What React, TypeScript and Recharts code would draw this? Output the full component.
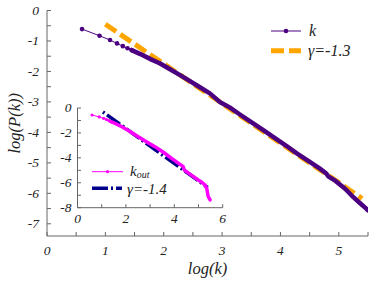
import React from "react";
import { LineChart, Line, XAxis, YAxis, Label, Legend, CartesianGrid } from "recharts";

// main plot: log(P(k)) against log(k)
const kHead = [
  { x: 0.6, y: -0.61 },
  { x: 0.9, y: -0.83 },
  { x: 1.08, y: -0.97 },
  { x: 1.2, y: -1.08 },
  { x: 1.3, y: -1.17 },
  { x: 1.38, y: -1.24 },
  { x: 1.45, y: -1.3 },
];
const kTail = [
  { x: 1.45, y: -1.3 },
  { x: 1.6, y: -1.43 },
  { x: 1.8, y: -1.62 },
  { x: 1.93, y: -1.73 },
  { x: 2.1, y: -1.92 },
  { x: 2.28, y: -2.12 },
  { x: 2.45, y: -2.32 },
  { x: 2.62, y: -2.52 },
  { x: 2.79, y: -2.72 },
  { x: 2.96, y: -3.0 },
  { x: 3.13, y: -3.18 },
  { x: 3.28, y: -3.38 },
  { x: 3.5, y: -3.66 },
  { x: 3.7, y: -3.92 },
  { x: 3.9, y: -4.18 },
  { x: 4.1, y: -4.44 },
  { x: 4.28, y: -4.69 },
  { x: 4.47, y: -4.93 },
  { x: 4.67, y: -5.18 },
  { x: 4.78, y: -5.34 },
  { x: 4.82, y: -5.44 },
  { x: 4.95, y: -5.6 },
  { x: 5.07, y: -5.79 },
  { x: 5.15, y: -5.93 },
  { x: 5.24, y: -6.11 },
  { x: 5.35, y: -6.3 },
  { x: 5.47, y: -6.5 },
  { x: 5.5, y: -6.56 },
];
const gamma13 = [
  { x: 1.0, y: -0.45 },
  { x: 5.4, y: -6.17 },
];

// inset: out-degree
const kOutHead = [
  { x: 0.6, y: -0.56 },
  { x: 0.9, y: -0.72 },
  { x: 1.08, y: -0.83 },
  { x: 1.2, y: -0.93 },
  { x: 1.3, y: -1.02 },
  { x: 1.38, y: -1.1 },
];
const kOutTail = [
  { x: 1.38, y: -1.1 },
  { x: 1.6, y: -1.28 },
  { x: 1.83, y: -1.5 },
  { x: 2.1, y: -1.8 },
  { x: 2.51, y: -2.3 },
  { x: 2.85, y: -2.7 },
  { x: 3.2, y: -3.1 },
  { x: 3.55, y: -3.55 },
  { x: 3.89, y: -4.04 },
  { x: 4.15, y: -4.4 },
  { x: 4.37, y: -4.71 },
  { x: 4.42, y: -5.0 },
  { x: 4.5, y: -5.1 },
  { x: 4.75, y: -5.45 },
  { x: 4.99, y: -5.78 },
  { x: 5.15, y: -5.98 },
  { x: 5.27, y: -6.18 },
  { x: 5.34, y: -6.45 },
  { x: 5.4, y: -7.1 },
  { x: 5.48, y: -7.38 },
];
const gamma14 = [
  { x: 1.05, y: -0.32 },
  { x: 5.38, y: -6.38 },
];

const mainXTicks = [0, 0.5, 1, 1.5, 2, 2.5, 3, 3.5, 4, 4.5, 5, 5.5];
const mainXLabels = [0, 1, 2, 3, 4, 5];
const mainYTicks = [0, -0.5, -1, -1.5, -2, -2.5, -3, -3.5, -4, -4.5, -5, -5.5, -6, -6.5, -7];
const mainYLabels = [0, -1, -2, -3, -4, -5, -6, -7];
const insetXTicks = [0, 1, 2, 3, 4, 5, 6];
const insetXLabels = [0, 2, 4, 6];
const insetYTicks = [0, -1, -2, -3, -4, -5, -6, -7, -8];
const insetYLabels = [0, -2, -4, -6, -8];

const FONT = "'Liberation Serif', 'Times New Roman', serif";
const AXIS = "#666";
const TEXT = "#222";
const PURPLE = "#4b0082";
const ORANGE = "#ffa500";
const MAGENTA = "#ff00ff";
const NAVY = "#00008b";

type Side = "bottom" | "left" | "top" | "right";

// gnuplot style: tick marks point inwards, labels sit outside
function axisTick(side: Side, len: number, labels: number[], fontSize: number, gap: number) {
  return function Tick(props: any) {
    const { x, y, payload } = props;
    const v = payload.value;
    const show = labels.includes(v);
    let line;
    let text = null;
    const tp = { fill: TEXT, fontFamily: FONT, fontStyle: "italic", fontSize };
    if (side === "bottom") {
      line = <line x1={x} y1={y} x2={x} y2={y - len} stroke={AXIS} />;
      if (show) text = <text x={x} y={y + gap} textAnchor="middle" {...tp}>{v}</text>;
    } else if (side === "left") {
      line = <line x1={x} y1={y} x2={x + len} y2={y} stroke={AXIS} />;
      if (show) text = <text x={x - gap} y={y + fontSize * 0.33} textAnchor="end" {...tp}>{v}</text>;
    } else if (side === "top") {
      line = <line x1={x} y1={y} x2={x} y2={y + len} stroke={AXIS} />;
    } else {
      line = <line x1={x} y1={y} x2={x - len} y2={y} stroke={AXIS} />;
    }
    return (
      <g>
        {line}
        {text}
      </g>
    );
  };
}

const labelStyle = { fill: TEXT, fontFamily: FONT, fontStyle: "italic", fontSize: 16.5 };

function MainLegend() {
  const ts = { fill: TEXT, fontFamily: FONT, fontStyle: "italic", fontSize: 16 };
  return (
    <svg width={105} height={45}>
      <line x1={6} y1={13} x2={36} y2={13} stroke={PURPLE} strokeWidth={1} />
      <circle cx={21} cy={13} r={2.3} fill={PURPLE} />
      <text x={44} y={18} {...ts}>k</text>
      <line x1={6} y1={32.7} x2={36} y2={32.7} stroke={ORANGE} strokeWidth={5} strokeDasharray="13 5" />
      <text x={43} y={38} {...ts}>γ=-1.3</text>
    </svg>
  );
}

function InsetLegend() {
  const ts = { fill: TEXT, fontFamily: FONT, fontStyle: "italic", fontSize: 15 };
  return (
    <svg width={100} height={40}>
      <line x1={4} y1={11.7} x2={35} y2={11.7} stroke={MAGENTA} strokeWidth={1} />
      <circle cx={19.5} cy={11.7} r={1.6} fill={MAGENTA} />
      <text x={42} y={15.5} {...ts}>
        k<tspan dy={2.5} fontSize={10}>out</tspan>
      </text>
      <line x1={4} y1={28.3} x2={34} y2={28.3} stroke={NAVY} strokeWidth={3.5} strokeDasharray="16 3 2 3" />
      <text x={39} y={33.5} {...ts}>γ=-1.4</text>
    </svg>
  );
}

export default function App() {
  return (
    <div style={{ position: "relative", width: 374, height: 282, background: "#fff" }}>
      <style>{`body{margin:0}`}</style>
      <LineChart width={374} height={282} margin={{ top: 10.5, right: 6, left: 0, bottom: 16 }}>
        <XAxis
          dataKey="x"
          type="number"
          domain={[0, 5.5]}
          allowDataOverflow
          ticks={mainXTicks}
          interval={0}
          height={30}
          tickSize={0}
          tickMargin={0}
          tickLine={false}
          axisLine={{ stroke: AXIS }}
          tick={axisTick("bottom", 4, mainXLabels, 13.5, 18.5)}
        >
          <Label value="log(k)" position="bottom" offset={-4} style={labelStyle} />
        </XAxis>
        <XAxis
          xAxisId="top"
          orientation="top"
          dataKey="x"
          type="number"
          domain={[0, 5.5]}
          allowDataOverflow
          ticks={mainXTicks}
          interval={0}
          height={0}
          tickSize={0}
          tickMargin={0}
          tickLine={false}
          axisLine={{ stroke: AXIS }}
          tick={axisTick("top", 4, [], 13.5, 0)}
        />
        <YAxis
          type="number"
          domain={[-7.4, 0]}
          allowDataOverflow
          ticks={mainYTicks}
          interval={0}
          width={47}
          tickSize={0}
          tickMargin={0}
          tickLine={false}
          axisLine={{ stroke: AXIS }}
          tick={axisTick("left", 4, mainYLabels, 13.5, 8)}
        >
          <Label
            value="log(P(k))"
            angle={-90}
            position="insideLeft"
            offset={14}
            style={{ ...labelStyle, textAnchor: "middle" }}
          />
        </YAxis>
        <YAxis
          yAxisId="right"
          orientation="right"
          type="number"
          domain={[-7.4, 0]}
          allowDataOverflow
          ticks={mainYTicks}
          interval={0}
          width={0}
          tickSize={0}
          tickMargin={0}
          tickLine={false}
          axisLine={{ stroke: AXIS }}
          tick={axisTick("right", 4, [], 13.5, 0)}
        />
        <Legend
          layout="vertical"
          align="center"
          verticalAlign="middle"
          content={() => <MainLegend />}
          wrapperStyle={{ left: 265, top: 18, width: 105, height: 45 }}
        />
        <Line
          data={gamma13}
          dataKey="y"
          stroke={ORANGE}
          strokeWidth={5}
          strokeDasharray="13 5"
          dot={false}
          legendType="none"
          isAnimationActive={false}
        />
        <Line
          data={kHead}
          dataKey="y"
          stroke={PURPLE}
          strokeWidth={1}
          dot={{ r: 2.3, fill: PURPLE, stroke: PURPLE, strokeWidth: 0 }}
          legendType="none"
          isAnimationActive={false}
        />
        <Line
          data={kTail}
          dataKey="y"
          stroke={PURPLE}
          strokeWidth={4.5}
          strokeLinecap="round"
          strokeLinejoin="round"
          dot={false}
          legendType="none"
          isAnimationActive={false}
        />
      </LineChart>

      <div style={{ position: "absolute", left: 50, top: 98 }}>
        <LineChart width={180} height={132} margin={{ top: 10, right: 7.3, left: 0, bottom: 0 }}>
          <CartesianGrid horizontal={false} vertical={false} fill="#fff" />
          <XAxis
            dataKey="x"
            type="number"
            domain={[0, 6]}
            allowDataOverflow
            ticks={insetXTicks}
            interval={0}
            height={22.3}
            tickSize={0}
            tickMargin={0}
            tickLine={false}
            axisLine={{ stroke: AXIS }}
            tick={axisTick("bottom", 3.5, insetXLabels, 13.5, 15)}
          />
          <XAxis
            xAxisId="top"
            orientation="top"
            dataKey="x"
            type="number"
            domain={[0, 6]}
            allowDataOverflow
            ticks={insetXTicks}
            interval={0}
            height={0}
            tickSize={0}
            tickMargin={0}
            tickLine={false}
            axisLine={{ stroke: AXIS }}
            tick={axisTick("top", 3.5, [], 13.5, 0)}
          />
          <YAxis
            type="number"
            domain={[-8, 0]}
            allowDataOverflow
            ticks={insetYTicks}
            interval={0}
            width={27.5}
            tickSize={0}
            tickMargin={0}
            tickLine={false}
            axisLine={{ stroke: AXIS }}
            tick={axisTick("left", 3.5, insetYLabels, 13.5, 6)}
          />
          <YAxis
            yAxisId="right"
            orientation="right"
            type="number"
            domain={[-8, 0]}
            allowDataOverflow
            ticks={insetYTicks}
            interval={0}
            width={0}
            tickSize={0}
            tickMargin={0}
            tickLine={false}
            axisLine={{ stroke: AXIS }}
            tick={axisTick("right", 3.5, [], 13.5, 0)}
          />
          <Legend
            layout="vertical"
            align="center"
            verticalAlign="middle"
            content={() => <InsetLegend />}
            wrapperStyle={{ left: 38, top: 62, width: 100, height: 40 }}
          />
          <Line
            data={gamma14}
            dataKey="y"
            stroke={NAVY}
            strokeWidth={3.5}
            strokeDasharray="2 3 16 3"
            dot={false}
            legendType="none"
            isAnimationActive={false}
          />
          <Line
            data={kOutHead}
            dataKey="y"
            stroke={MAGENTA}
            strokeWidth={1}
            dot={{ r: 1.6, fill: MAGENTA, stroke: MAGENTA, strokeWidth: 0 }}
            legendType="none"
            isAnimationActive={false}
          />
          <Line
            data={kOutTail}
            dataKey="y"
            stroke={MAGENTA}
            strokeWidth={3.5}
            strokeLinecap="round"
            strokeLinejoin="round"
            dot={false}
            legendType="none"
            isAnimationActive={false}
          />
        </LineChart>
      </div>
    </div>
  );
}
